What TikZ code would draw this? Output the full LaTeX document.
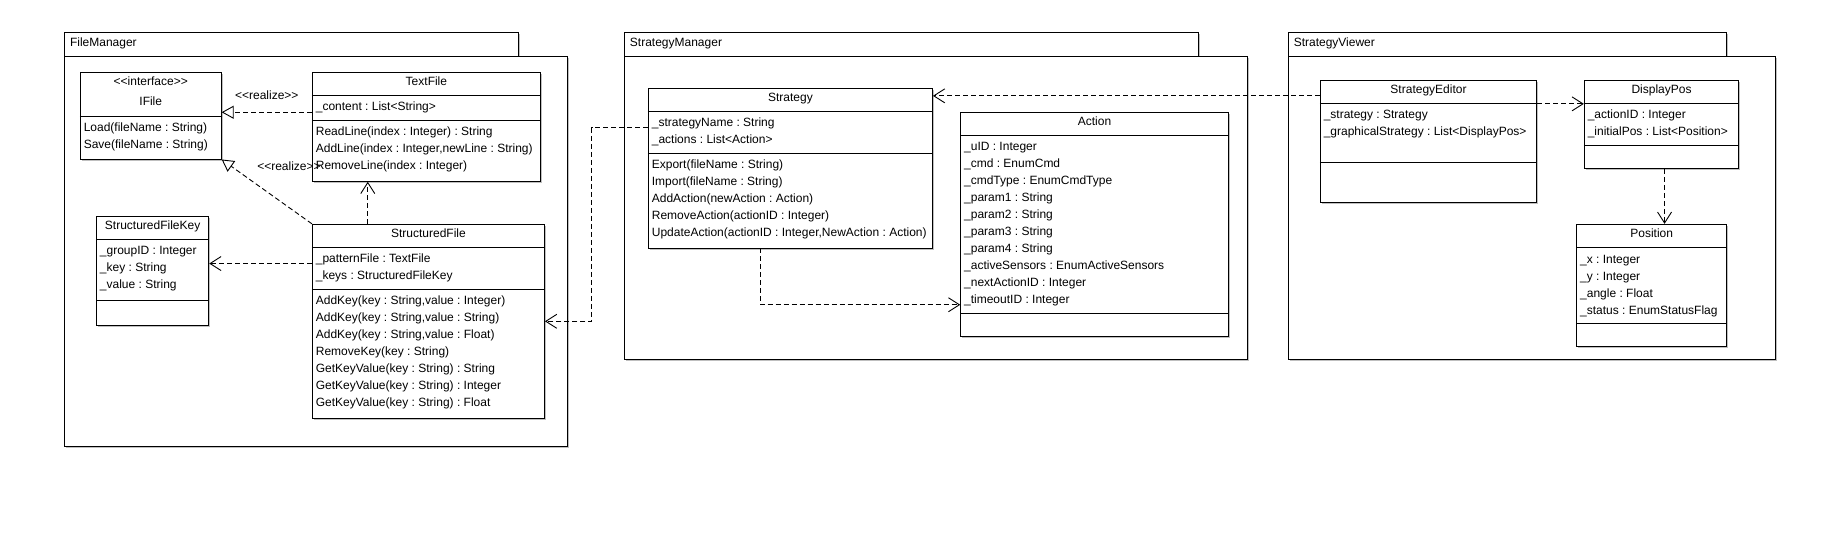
\documentclass[tikz,border=0pt]{standalone}
\usepackage{fontspec}
\setmainfont{Liberation Sans}[Ligatures=TeXOff]
\usepackage{tikz}
\usetikzlibrary{arrows.meta, calc, fit, positioning, shadows}

\newcommand{\umlfont}{\fontsize{12}{14}\selectfont\frenchspacing}

\begin{document}
\begin{tikzpicture}[x=1pt, y=-1pt, line width=0.9pt,
    softshadow/.style={drop shadow={shadow xshift=1.5pt, shadow yshift=-1.5pt, fill=black!25, opacity=1}},
    pkgbox/.style={draw, fill=white, inner sep=0pt, softshadow},
    classbox/.style={draw, fill=white, inner sep=0pt, softshadow},
    ctitle/.style={anchor=base, inner sep=0pt, font=\umlfont},
    member/.style={anchor=base west, inner sep=0pt, font=\umlfont},
    lbl/.style={inner sep=0pt, font=\umlfont},
    dep/.style={dash pattern=on 5pt off 3pt, -{Straight Barb[length=11pt, width=14pt]}},
    realize/.style={dash pattern=on 5pt off 3pt, -{Triangle[open, length=12pt, width=13pt, fill=white]}}]
    \useasboundingbox (0,0) rectangle (1840,544);

    % 1. Các gói (package)
    \node[pkgbox, fit={(64.5,32.3) (518.4,56)}] (fmtab) {};
    \node[pkgbox, fit={(64.5,56) (567.6,446.7)}] (fmbody) {};
    \node[member] (fmlabel) at (69.6,46.3) {FileManager};
    \node[pkgbox, fit={(624.4,32.3) (1198.6,56)}] (smtab) {};
    \node[pkgbox, fit={(624.4,56) (1247.4,359.3)}] (smbody) {};
    \node[member] (smlabel) at (629.5,46.3) {StrategyManager};
    \node[pkgbox, fit={(1288.3,32.3) (1726.7,56)}] (svtab) {};
    \node[pkgbox, fit={(1288.3,56) (1775.7,359.3)}] (svbody) {};
    \node[member] (svlabel) at (1293.3,46.3) {StrategyViewer};

    % 2. Các lớp
    \node[classbox, fit={(80.3,72.3) (221.2,159)}] (ifile) {};
    \node[classbox, fit={(312.4,72.3) (540.4,181.3)}] (textfile) {};
    \node[classbox, fit={(312.4,224.3) (544.5,418.3)}] (sfile) {};
    \node[classbox, fit={(96.5,216) (208.8,325)}] (sfkey) {};
    \node[classbox, fit={(648.4,88.3) (932.5,248)}] (strategy) {};
    \node[classbox, fit={(960.7,112.3) (1228.4,336)}] (action) {};
    \node[classbox, fit={(1320.3,80.3) (1536.7,202.3)}] (editor) {};
    \node[classbox, fit={(1584.3,80.3) (1738.7,168.3)}] (displaypos) {};
    \node[classbox, fit={(1576.7,224.3) (1726.7,346.3)}] (position) {};

    % 3. Đường phân ngăn
    \foreach \c in {textfile, sfile, sfkey, strategy, action, editor, displaypos, position}
        \draw ($(\c.north west)+(0,24)$) -- ($(\c.north east)+(0,24)$);
    \foreach \c/\d in {ifile/45, textfile/49, sfile/66, sfkey/85.3, strategy/66,
                       action/202, editor/83, displaypos/66, position/100}
        \draw ($(\c.north west)+(0,\d)$) -- ($(\c.north east)+(0,\d)$);

    % 4. Tên lớp
    \node[ctitle] (ifile-s) at ($(ifile.north)+(0,14)$) {<<interface>>};
    \node[ctitle] (ifile-t) at ($(ifile.north)+(0,33.4)$) {IFile};
    \node[ctitle] (textfile-t) at ($(textfile.north)+(0,13.5)$) {TextFile};
    \node[ctitle] (sfile-t) at ($(sfile.north)+(0,13.5)$) {StructuredFile};
    \node[ctitle] (sfkey-t) at ($(sfkey.north)+(0,13.5)$) {StructuredFileKey};
    \node[ctitle] (strategy-t) at ($(strategy.north)+(0,13.5)$) {Strategy};
    \node[ctitle] (action-t) at ($(action.north)+(0,13.5)$) {Action};
    \node[ctitle] (editor-t) at ($(editor.north)+(0,13.5)$) {StrategyEditor};
    \node[ctitle] (displaypos-t) at ($(displaypos.north)+(0,13.5)$) {DisplayPos};
    \node[ctitle] (position-t) at ($(position.north)+(0,13.5)$) {Position};

    % 5. Thuộc tính và phương thức
    \foreach \m [count=\i from 0] in {{Load(fileName : String)}, {Save(fileName : String)}}
        \node[member] (ifile-o\i) at (83.3,{117.3+14.5+17*\i}) {\m};

    \foreach \m [count=\i from 0] in {{\_content : List<String>}}
        \node[member] (textfile-a\i) at (315.4,{96+14.5+17*\i}) {\m};
    \foreach \m [count=\i from 0] in {{ReadLine(index : Integer) : String},
            {AddLine(index : Integer,newLine : String)}, {RemoveLine(index : Integer)}}
        \node[member] (textfile-o\i) at (315.4,{121.3+14.5+17*\i}) {\m};

    \foreach \m [count=\i from 0] in {{\_patternFile : TextFile}, {\_keys : StructuredFileKey}}
        \node[member] (sfile-a\i) at (315.4,{248+14.5+17*\i}) {\m};
    \foreach \m [count=\i from 0] in {{AddKey(key : String,value : Integer)},
            {AddKey(key : String,value : String)}, {AddKey(key : String,value : Float)},
            {RemoveKey(key : String)}, {GetKeyValue(key : String) : String},
            {GetKeyValue(key : String) : Integer}, {GetKeyValue(key : String) : Float}}
        \node[member] (sfile-o\i) at (315.4,{290.3+14.5+17*\i}) {\m};

    \foreach \m [count=\i from 0] in {{\_groupID : Integer}, {\_key : String}, {\_value : String}}
        \node[member] (sfkey-a\i) at (99.5,{240+14.5+17*\i}) {\m};

    \foreach \m [count=\i from 0] in {{\_strategyName : String}, {\_actions : List<Action>}}
        \node[member] (strategy-a\i) at (651.4,{112.3+14.5+17*\i}) {\m};
    \foreach \m [count=\i from 0] in {{Export(fileName : String)}, {Import(fileName : String)},
            {AddAction(newAction : Action)}, {RemoveAction(actionID : Integer)},
            {UpdateAction(actionID : Integer,NewAction : Action)}}
        \node[member] (strategy-o\i) at (651.4,{154.3+14.5+17*\i}) {\m};

    \foreach \m [count=\i from 0] in {{\_uID : Integer}, {\_cmd : EnumCmd},
            {\_cmdType : EnumCmdType}, {\_param1 : String}, {\_param2 : String},
            {\_param3 : String}, {\_param4 : String}, {\_activeSensors : EnumActiveSensors},
            {\_nextActionID : Integer}, {\_timeoutID : Integer}}
        \node[member] (action-a\i) at (963.7,{136.3+14.5+17*\i}) {\m};

    \foreach \m [count=\i from 0] in {{\_strategy : Strategy}, {\_graphicalStrategy : List<DisplayPos>}}
        \node[member] (editor-a\i) at (1323.3,{104.3+14.5+17*\i}) {\m};

    \foreach \m [count=\i from 0] in {{\_actionID : Integer}, {\_initialPos : List<Position>}}
        \node[member] (displaypos-a\i) at (1587.3,{104.3+14.5+17*\i}) {\m};

    \foreach \m [count=\i from 0] in {{\_x : Integer}, {\_y : Integer}, {\_angle : Float},
            {\_status : EnumStatusFlag}}
        \node[member] (position-a\i) at (1579.7,{248.7+14.5+17*\i}) {\m};

    % 6. Quan hệ hiện thực (realize)
    \draw[realize] ($(textfile.west |- ifile.east)+(0,-3.4)$) -- ($(ifile.east)+(0,-3.4)$)
        node[lbl, midway, above=12.6pt] (real1) {<<realize>>};
    \draw[realize] (sfile.north west) -- (ifile.south east);
    \node[lbl] (real2) at (289,166.7) {<<realize>>};

    % 7. Quan hệ phụ thuộc
    \coordinate (sf-up) at ($(sfile.north west)+(55.8,0)$);
    \draw[dep] (sf-up) -- (sf-up |- textfile.south);
    \coordinate (sf-key) at ($(sfile.north west)+(0,39.7)$);
    \draw[dep] (sf-key) -- (sf-key -| sfkey.east);
    \coordinate (st-out) at ($(strategy.north west)+(0,40)$);
    \draw[dep] (st-out) -- ++(-56.1,0) |- (sfile.east);
    \coordinate (st-down) at ($(strategy.south west)+(112,0)$);
    \coordinate (ac-in) at ($(action.south west)+(0,-31.7)$);
    \draw[dep] (st-down) |- (ac-in);
    \coordinate (st-in) at ($(strategy.north east)+(0,8)$);
    \draw[dep] (st-in -| editor.west) -- (st-in);
    \draw[dep] ($(editor.north east)+(0,24)$) -- ($(displaypos.north west)+(0,24)$);
    \coordinate (dp-out) at ($(displaypos.south west)+(80.7,0)$);
    \draw[dep] (dp-out) -- (dp-out |- position.north);
\end{tikzpicture}
\end{document}
